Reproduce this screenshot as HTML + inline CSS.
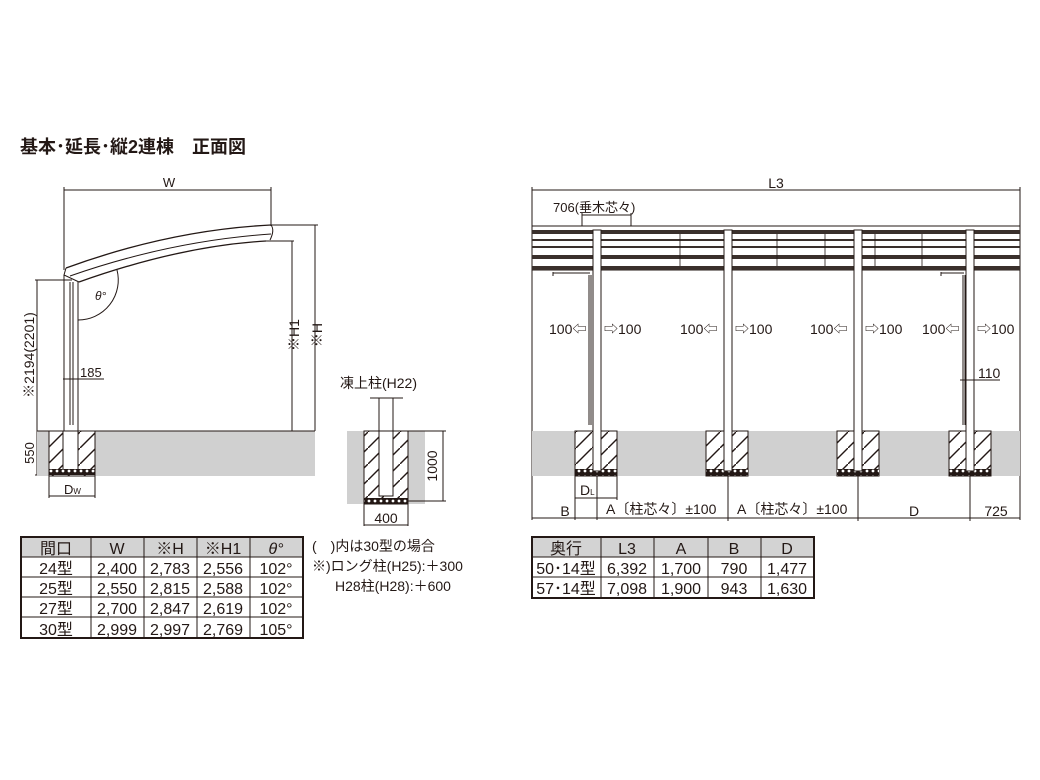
<!DOCTYPE html>
<html><head><meta charset="utf-8"><style>
html,body{margin:0;padding:0;background:#fff;}
svg{display:block;}
text{font-family:"Liberation Sans","Noto Sans CJK JP",sans-serif;fill:#231815;}
</style></head><body>
<svg width="1040" height="780" viewBox="0 0 1040 780" xmlns="http://www.w3.org/2000/svg">
<defs>
<pattern id="hat" patternUnits="userSpaceOnUse" width="16" height="16">
<rect width="16" height="16" fill="#fff"/>
<line x1="0" y1="16" x2="16" y2="0" stroke="#231815" stroke-width="1.4"/>
</pattern>
<pattern id="grav" patternUnits="userSpaceOnUse" width="6" height="6">
<rect width="6" height="6" fill="#231815"/><circle cx="3" cy="3" r="1.4" fill="#fff"/>
</pattern>
</defs>
<text x="20" y="153" font-size="18" font-weight="bold">基本･延長･縦2連棟　正面図</text>

<!-- LEFT SIDE VIEW -->
<g stroke="#231815" fill="none" stroke-width="1">
<line x1="64" y1="190" x2="271" y2="190"/>
<line x1="64" y1="187" x2="64" y2="270"/><line x1="271" y1="187" x2="271" y2="226"/>
<line x1="271" y1="225" x2="318" y2="225"/><line x1="315" y1="225" x2="315" y2="431"/>
<line x1="266" y1="241" x2="294" y2="241"/><line x1="292" y1="241" x2="292" y2="431"/>
<line x1="35" y1="280" x2="72" y2="280"/><line x1="37" y1="280" x2="37" y2="475"/>
<line x1="35" y1="475" x2="50" y2="475"/>
<line x1="49" y1="475" x2="49" y2="498"/><line x1="95" y1="475" x2="95" y2="498"/>
<line x1="49" y1="496" x2="95" y2="496"/>
<line x1="63" y1="379" x2="104" y2="379"/>
<path d="M66 268 Q170 230 271 225" stroke-width="1.3"/>
<path d="M70 276 Q170 241 271 234" stroke-width="1"/>
<path d="M79 282 Q180 246 266 241" stroke-width="1.3"/>
<path d="M271 225 Q275 230 270 240"/>
<path d="M66 268 L64 275 L79 282"/>
<line x1="64" y1="275" x2="64" y2="431"/><line x1="78" y1="282" x2="78" y2="475"/>
<line x1="70" y1="282" x2="70" y2="425"/><line x1="73" y1="282" x2="73" y2="425"/>
<path d="M78 320 A40 40 0 0 0 117 270"/>
</g>
<rect x="37" y="431" width="278" height="45" fill="#d0d0d0"/>
<rect x="49" y="431" width="46" height="45" fill="url(#hat)" stroke="#231815"/>
<rect x="63" y="431" width="15" height="40" fill="#fff" stroke="#231815"/>
<rect x="49" y="469" width="46" height="6" fill="url(#grav)"/>
<line x1="37" y1="431" x2="315" y2="431" stroke="#231815"/>
<text x="169" y="187" font-size="13" text-anchor="middle">W</text>
<text x="95" y="300" font-size="12" font-style="italic">θ°</text>
<text x="80" y="377" font-size="13">185</text>
<text transform="translate(299,335) rotate(-90)" font-size="14" text-anchor="middle">※H1</text>
<text transform="translate(322,335) rotate(-90)" font-size="14" text-anchor="middle">※H</text>
<text transform="translate(34,355) rotate(-90)" font-size="14" text-anchor="middle">※2194(2201)</text>
<text transform="translate(34,453) rotate(-90)" font-size="13" text-anchor="middle">550</text>
<text x="64" y="494" font-size="13">D<tspan font-size="8">W</tspan></text>

<!-- MIDDLE -->
<rect x="347" y="431" width="78" height="73" fill="#d0d0d0"/>
<rect x="364" y="431" width="44" height="73" fill="url(#hat)" stroke="#231815"/>
<rect x="379" y="431" width="14" height="65" fill="#fff" stroke="#231815"/>
<rect x="364" y="498" width="44" height="6" fill="url(#grav)"/>
<g stroke="#231815" stroke-width="1">
<line x1="370" y1="398" x2="403" y2="398"/>
<line x1="379" y1="398" x2="379" y2="431"/><line x1="393" y1="398" x2="393" y2="431"/>
<line x1="408" y1="431" x2="446" y2="431"/><line x1="408" y1="501" x2="446" y2="501"/>
<line x1="443" y1="431" x2="443" y2="501"/>
<line x1="364" y1="504" x2="364" y2="526"/><line x1="408" y1="504" x2="408" y2="526"/>
<line x1="364" y1="525" x2="408" y2="525"/>
</g>
<text x="340" y="388" font-size="14">凍上柱(H22)</text>
<text transform="translate(437,466) rotate(-90)" font-size="14" text-anchor="middle">1000</text>
<text x="386" y="523" font-size="14" text-anchor="middle">400</text>

<!-- RIGHT -->
<g stroke="#231815" stroke-width="1" fill="none">
<line x1="532" y1="190" x2="1020" y2="190"/>
<line x1="532" y1="187" x2="532" y2="520"/><line x1="1020" y1="187" x2="1020" y2="520"/>
<line x1="582" y1="215" x2="631" y2="215"/><line x1="582" y1="213" x2="582" y2="270"/><line x1="631" y1="213" x2="631" y2="270"/>
</g>
<rect x="532" y="226" width="488" height="44" fill="#fff" stroke="#231815"/>
<rect x="532" y="230" width="488" height="4" fill="#3a302c"/>
<rect x="532" y="239" width="488" height="2" fill="#3a302c"/>
<rect x="532" y="246" width="488" height="2" fill="#3a302c"/>
<rect x="532" y="255" width="488" height="4" fill="#3a302c"/>
<rect x="532" y="266" width="488" height="4" fill="#3a302c"/>
<g stroke="#231815" stroke-width="0.8">
<line x1="680" y1="234" x2="680" y2="266"/><line x1="777" y1="234" x2="777" y2="266"/><line x1="825" y1="234" x2="825" y2="266"/>
<line x1="875" y1="234" x2="875" y2="266"/><line x1="922" y1="234" x2="922" y2="266"/>
</g>
<rect x="532" y="431" width="488" height="45" fill="#d0d0d0"/>
<g>
<rect x="575" y="431" width="42" height="45" fill="url(#hat)" stroke="#231815"/>
<rect x="706" y="431" width="42" height="45" fill="url(#hat)" stroke="#231815"/>
<rect x="837" y="431" width="42" height="45" fill="url(#hat)" stroke="#231815"/>
<rect x="949" y="431" width="42" height="45" fill="url(#hat)" stroke="#231815"/>
<rect x="575" y="469" width="42" height="7" fill="url(#grav)"/>
<rect x="706" y="469" width="42" height="7" fill="url(#grav)"/>
<rect x="837" y="469" width="42" height="7" fill="url(#grav)"/>
<rect x="949" y="469" width="42" height="7" fill="url(#grav)"/>
</g>
<g fill="#fff" stroke="#231815">
<rect x="593" y="230" width="8" height="241"/>
<rect x="724" y="230" width="8" height="241"/>
<rect x="854" y="230" width="8" height="241"/>
<rect x="966" y="230" width="8" height="241"/>
</g>
<g stroke="#231815" stroke-width="1" fill="none">
<line x1="589" y1="275" x2="589" y2="425"/><line x1="591" y1="275" x2="591" y2="425"/>
<path d="M553 272 L553 276 M553 273 L590 273"/>
<line x1="963" y1="275" x2="963" y2="425"/><line x1="965" y1="275" x2="965" y2="425"/>
<path d="M941 272 L941 276 M941 273 L964 273"/>
<line x1="960" y1="380" x2="1000" y2="380"/>
<line x1="575" y1="476" x2="575" y2="520"/><line x1="597" y1="476" x2="597" y2="520"/>
<line x1="575" y1="498" x2="617" y2="498"/><line x1="617" y1="476" x2="617" y2="500"/>
<line x1="532" y1="518" x2="1020" y2="518"/>
<line x1="728" y1="476" x2="728" y2="521"/><line x1="858" y1="476" x2="858" y2="521"/><line x1="970" y1="476" x2="970" y2="521"/>
</g>
<g font-size="14">
<text x="776" y="188" text-anchor="middle">L3</text>
<text x="553" y="212" font-size="13">706(垂木芯々)</text>
<text x="549" y="334">100⇦</text><text x="604" y="334">⇨100</text>
<text x="680" y="334">100⇦</text><text x="735" y="334">⇨100</text>
<text x="810" y="334">100⇦</text><text x="865" y="334">⇨100</text>
<text x="922" y="334">100⇦</text><text x="977" y="334">⇨100</text>
<text x="978" y="378">110</text>
<text x="580" y="495">D<tspan font-size="8">L</tspan></text>
<text x="565" y="516" text-anchor="middle">B</text>
<text x="606" y="514">A〔柱芯々〕±100</text>
<text x="737" y="514">A〔柱芯々〕±100</text>
<text x="914" y="516" text-anchor="middle">D</text>
<text x="996" y="516" text-anchor="middle">725</text>
</g>

<!-- LEFT TABLE -->
<rect x="21" y="537" width="282" height="20" fill="#d3d3d3"/>
<g stroke="#231815" fill="none">
<rect x="21" y="537" width="282" height="101" stroke-width="2"/>
<line x1="21" y1="557" x2="303" y2="557"/><line x1="21" y1="577" x2="303" y2="577"/>
<line x1="21" y1="597" x2="303" y2="597"/><line x1="21" y1="617" x2="303" y2="617"/>
<line x1="91" y1="537" x2="91" y2="638"/><line x1="144" y1="537" x2="144" y2="638"/>
<line x1="197" y1="537" x2="197" y2="638"/><line x1="250" y1="537" x2="250" y2="638"/>
</g>
<g font-size="16" text-anchor="middle">
<text x="56" y="554">間口</text><text x="117" y="554">W</text><text x="170" y="554">※H</text><text x="223" y="554">※H1</text><text x="276" y="554" font-style="italic">θ°</text>
<text x="56" y="574">24型</text><text x="117" y="574">2,400</text><text x="170" y="574">2,783</text><text x="223" y="574">2,556</text><text x="276" y="574">102°</text>
<text x="56" y="594">25型</text><text x="117" y="594">2,550</text><text x="170" y="594">2,815</text><text x="223" y="594">2,588</text><text x="276" y="594">102°</text>
<text x="56" y="614">27型</text><text x="117" y="614">2,700</text><text x="170" y="614">2,847</text><text x="223" y="614">2,619</text><text x="276" y="614">102°</text>
<text x="56" y="635">30型</text><text x="117" y="635">2,999</text><text x="170" y="635">2,997</text><text x="223" y="635">2,769</text><text x="276" y="635">105°</text>
</g>
<g font-size="14">
<text x="312" y="551">(　)内は30型の場合</text>
<text x="312" y="571">※)ロング柱(H25):＋300</text>
<text x="335" y="591">H28柱(H28):＋600</text>
</g>

<!-- RIGHT TABLE -->
<rect x="532" y="537" width="282" height="20" fill="#d3d3d3"/>
<g stroke="#231815" fill="none">
<rect x="532" y="537" width="282" height="61" stroke-width="2"/>
<line x1="532" y1="557" x2="814" y2="557"/><line x1="532" y1="577" x2="814" y2="577"/>
<line x1="601" y1="537" x2="601" y2="598"/><line x1="654" y1="537" x2="654" y2="598"/>
<line x1="708" y1="537" x2="708" y2="598"/><line x1="761" y1="537" x2="761" y2="598"/>
</g>
<g font-size="16" text-anchor="middle">
<text x="566" y="554">奥行</text><text x="627" y="554">L3</text><text x="681" y="554">A</text><text x="734" y="554">B</text><text x="787" y="554">D</text>
<text x="566" y="574">50･14型</text><text x="627" y="574">6,392</text><text x="681" y="574">1,700</text><text x="734" y="574">790</text><text x="787" y="574">1,477</text>
<text x="566" y="594">57･14型</text><text x="627" y="594">7,098</text><text x="681" y="594">1,900</text><text x="734" y="594">943</text><text x="787" y="594">1,630</text>
</g>
</svg>
</body></html>
